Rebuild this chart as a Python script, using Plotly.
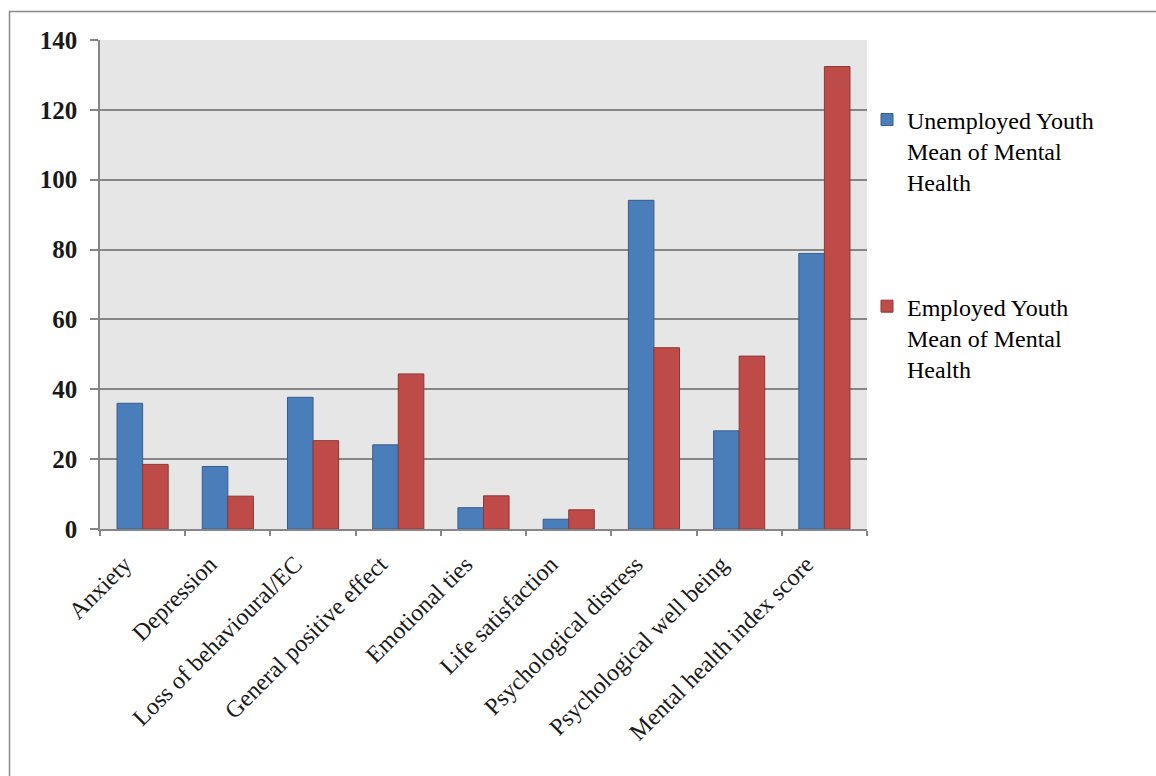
import plotly.graph_objects as go

categories = ["Anxiety", "Depression", "Loss of behavioural/EC", "General positive effect",
              "Emotional ties", "Life satisfaction", "Psychological distress",
              "Psychological well being", "Mental health index score"]
unemployed = [36.0, 17.9, 37.7, 24.1, 6.1, 2.8, 94.1, 28.1, 78.9]
employed = [18.5, 9.4, 25.3, 44.4, 9.5, 5.5, 51.9, 49.5, 132.4]
y_ticks = [0, 20, 40, 60, 80, 100, 120, 140]
name_unemp = "Unemployed Youth<br>Mean of Mental<br>Health"
name_emp = "Employed Youth<br>Mean of Mental<br>Health"

SERIF = "Liberation Serif, Times New Roman, serif"

fig = go.Figure()
fig.add_trace(go.Bar(x=categories, y=unemployed, name=name_unemp, legendgroup="u",
                     marker=dict(color="#4a7ebb", line=dict(color="#385d8a", width=1))))
fig.add_trace(go.Bar(x=categories, y=employed, name=name_emp, legendgroup="e",
                     marker=dict(color="#be4b48", line=dict(color="#8c3836", width=1))))

fig.update_layout(
    width=1156, height=776,
    margin=dict(l=100, r=289, t=40, b=247, autoexpand=False),
    paper_bgcolor="white",
    plot_bgcolor="#e6e6e6",
    barmode="group",
    bargap=0.4,
    bargroupgap=0,
    showlegend=True,
    font=dict(family=SERIF, color="black"),
    legend=dict(x=1.0, y=0.8825, xanchor="left", yanchor="top", valign="top",
                font=dict(family=SERIF, size=24, color="black"),
                bgcolor="rgba(0,0,0,0)", traceorder="grouped", tracegroupgap=90),
    shapes=[dict(type="rect", xref="paper", yref="paper",
                 x0=(9.5 - 100) / 767, x1=(1200 - 100) / 767,
                 y0=(529 - 800) / 489, y1=(529 - 11.5) / 489,
                 line=dict(color="#8a8a8a", width=1.5), fillcolor="rgba(0,0,0,0)",
                 layer="below")],
)

fig.update_xaxes(
    type="category",
    tickangle=-45,
    tickfont=dict(family=SERIF, size=24, color="#1a1a1a"),
    showline=True, linecolor="#868686", linewidth=1.5,
    ticks="outside", ticklen=5, tickcolor="#868686", tickwidth=1.5,
    tickson="boundaries",
    ticklabelstandoff=10,
    ticklabelshift=-18,
    showgrid=False,
)
fig.update_yaxes(
    range=[0, 140],
    tickvals=y_ticks,
    tickfont=dict(family=SERIF, size=25, color="#1a1a1a", weight="bold"),
    showline=True, linecolor="#868686", linewidth=1.5,
    ticks="outside", ticklen=8, tickcolor="#868686", tickwidth=1.5,
    ticklabelstandoff=8,
    showgrid=True, gridcolor="#868686", gridwidth=1.5,
    zeroline=False,
)

fig.write_html("out.html")
